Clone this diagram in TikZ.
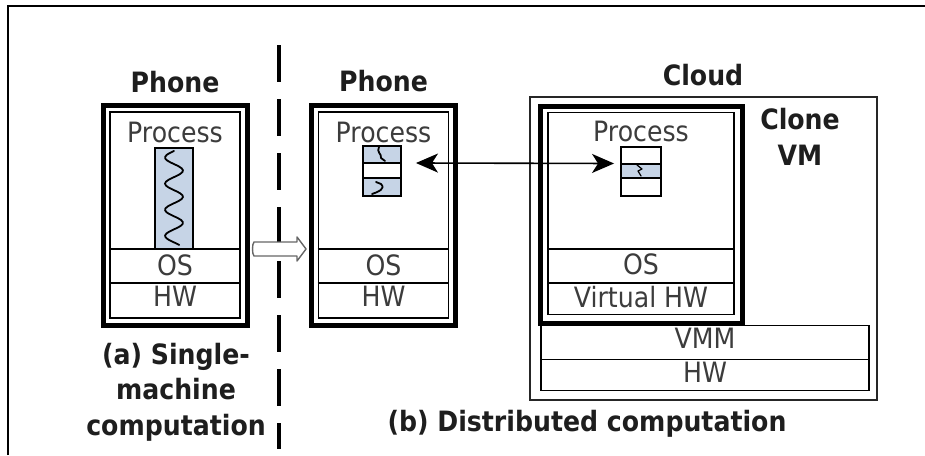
\documentclass[tikz,border=0pt]{standalone}
\usepackage{fontspec}
\setmainfont{DejaVu Sans}[FakeStretch=0.9]
\usetikzlibrary{arrows.meta}
\definecolor{threadblue}{RGB}{198,212,230}
\definecolor{labelgray}{RGB}{30,30,30}
\definecolor{layergray}{RGB}{60,60,60}
\begin{document}
\begin{tikzpicture}[x=1pt,y=-1pt,
  machine/.style={draw=black, line width=5pt, inner sep=0pt, minimum width=144pt, minimum height=220pt},
  thinbox/.style={draw=black, line width=1.9pt, inner sep=0pt},
  thread/.style={draw=black, line width=1.9pt, inner sep=0pt, fill=threadblue},
  squiggle/.style={draw=black, line width=1.8pt, line cap=round, line join=round},
  title/.style={font=\fontsize{28}{30}\selectfont\bfseries, text=labelgray, inner sep=0pt, anchor=base},
  layertext/.style={font=\fontsize{28}{30}\selectfont, text=layergray, inner sep=0pt, anchor=base},
  caption/.style={font=\fontsize{28}{35.5}\selectfont\bfseries, text=labelgray, inner sep=0pt, align=center},
  sep/.style={draw=black, line width=1.9pt},
  link/.style={draw=black, line width=1.6pt, {Stealth[length=22pt,width=19pt,inset=6pt]}-{Stealth[length=22pt,width=19pt,inset=6pt]}}
]
\useasboundingbox (0,0) rectangle (925,455);
\fill[white] (0,0) rectangle (925,455);

% outer frame (only the top and left edges are inside the page)
\draw[line width=2.4pt] (8,455) -- (8,6) -- (925,6);

% divider between the two scenarios
\draw[line width=3.2pt, dash pattern=on 37pt off 17pt] (279,45) -- (279,449);

% ---------- (a) single machine ----------
\node[title] (phoneAlbl) at (175,92) {Phone};
\node[machine] (phA) at (175,215) {};
\node[thinbox, minimum width=130pt, minimum height=206pt] (inA) at (175,215) {};
\draw[sep] (inA.west |- 0,249) -- (inA.east |- 0,249);
\draw[sep] (inA.west |- 0,283) -- (inA.east |- 0,283);
\node[layertext] (procA) at (175,142) {Process};
\node[layertext] (osA) at (175,275) {OS};
\node[layertext] (hwA) at (175,306) {HW};
\node[thread, minimum width=38pt, minimum height=101pt] (thrA) at (174,198.5) {};
\draw[squiggle] plot[smooth, domain=0:1, samples=50]
  ({174-9*sin(3.6*360*\x)}, {151+94*\x});

% transition arrow
\draw[draw=black!60, line width=1.4pt, fill=white, line join=round]
  (254,242) -- (297,242) -- (297,237) -- (306,249) -- (297,261) -- (297,256) -- (254,256)
  .. controls (252,254) and (252,244) .. cycle;

% ---------- (b) distributed ----------
\node[title] (phoneBlbl) at (383.5,91) {Phone};
\node[machine] (phB) at (383.5,215) {};
\node[thinbox, minimum width=130pt, minimum height=206pt] (inB) at (383.5,215) {};
\draw[sep] (inB.west |- 0,249) -- (inB.east |- 0,249);
\draw[sep] (inB.west |- 0,283) -- (inB.east |- 0,283);
\node[layertext] (procB) at (383.5,142) {Process};
\node[layertext] (osB) at (383.5,275) {OS};
\node[layertext] (hwB) at (383.5,306) {HW};
% split thread on the phone
\fill[threadblue] (363,146) rectangle (401,163);
\fill[threadblue] (363,178) rectangle (401,196);
\node[thinbox, minimum width=38pt, minimum height=50pt] (thrB) at (382,171) {};
\draw[sep] (363,163) -- (401,163);
\draw[sep] (363,178) -- (401,178);
\draw[squiggle] (379,147) .. controls (376,152) and (382,154) .. (381,158) -- (385,161);
\draw[squiggle] (372,194) .. controls (378,192) and (386,189) .. (381,184) -- (376,182);

% cloud side
\node[title] (cloudlbl) at (703,85) {Cloud};
\node[draw=black!85, line width=2.2pt, inner sep=0pt, minimum width=347pt, minimum height=303pt] (cloud) at (703.5,248.5) {};
\node[caption, font=\fontsize{28}{36}\selectfont\bfseries, anchor=north] (clonelbl) at (800,108) {Clone\\VM};
\node[draw=black, line width=5pt, inner sep=0pt, minimum width=202pt, minimum height=217pt] (vm) at (641,214.5) {};
\node[thinbox, minimum width=186pt, minimum height=202pt] (inC) at (641,213.5) {};
\draw[sep] (inC.west |- 0,249) -- (inC.east |- 0,249);
\draw[sep] (inC.west |- 0,283) -- (inC.east |- 0,283);
\node[layertext] (procC) at (641,141) {Process};
\node[layertext] (osC) at (641,274) {OS};
\node[layertext] (vhw) at (641,307) {Virtual HW};
\node[thinbox, minimum width=328pt, minimum height=34pt] (vmm) at (705,342.5) {};
\node[thinbox, minimum width=328pt, minimum height=31pt] (hwC) at (705,375) {};
\node[layertext] (vmmtxt) at (705,348) {VMM};
\node[layertext] (hwCtxt) at (705,382) {HW};
% migrated thread part in the clone
\fill[threadblue] (621,164) rectangle (661,178);
\node[thinbox, minimum width=40pt, minimum height=49pt] (thrC) at (641,171.5) {};
\draw[sep] (621,164) -- (661,164);
\draw[sep] (621,178) -- (661,178);
\draw[squiggle, line width=1.2pt] (637,165) -- (642,169) -- (638,171) -- (641,176);

% offloading link
\draw[link] ([shift={(14,-8)}]thrB.east) -- ([shift={(-6,-8)}]thrC.west);

% captions
\node[caption, anchor=north] (capA) at (176,343) {(a) Single-\\machine\\computation};
\node[title] (capB) at (587,431) {(b) Distributed computation};
\end{tikzpicture}
\end{document}
